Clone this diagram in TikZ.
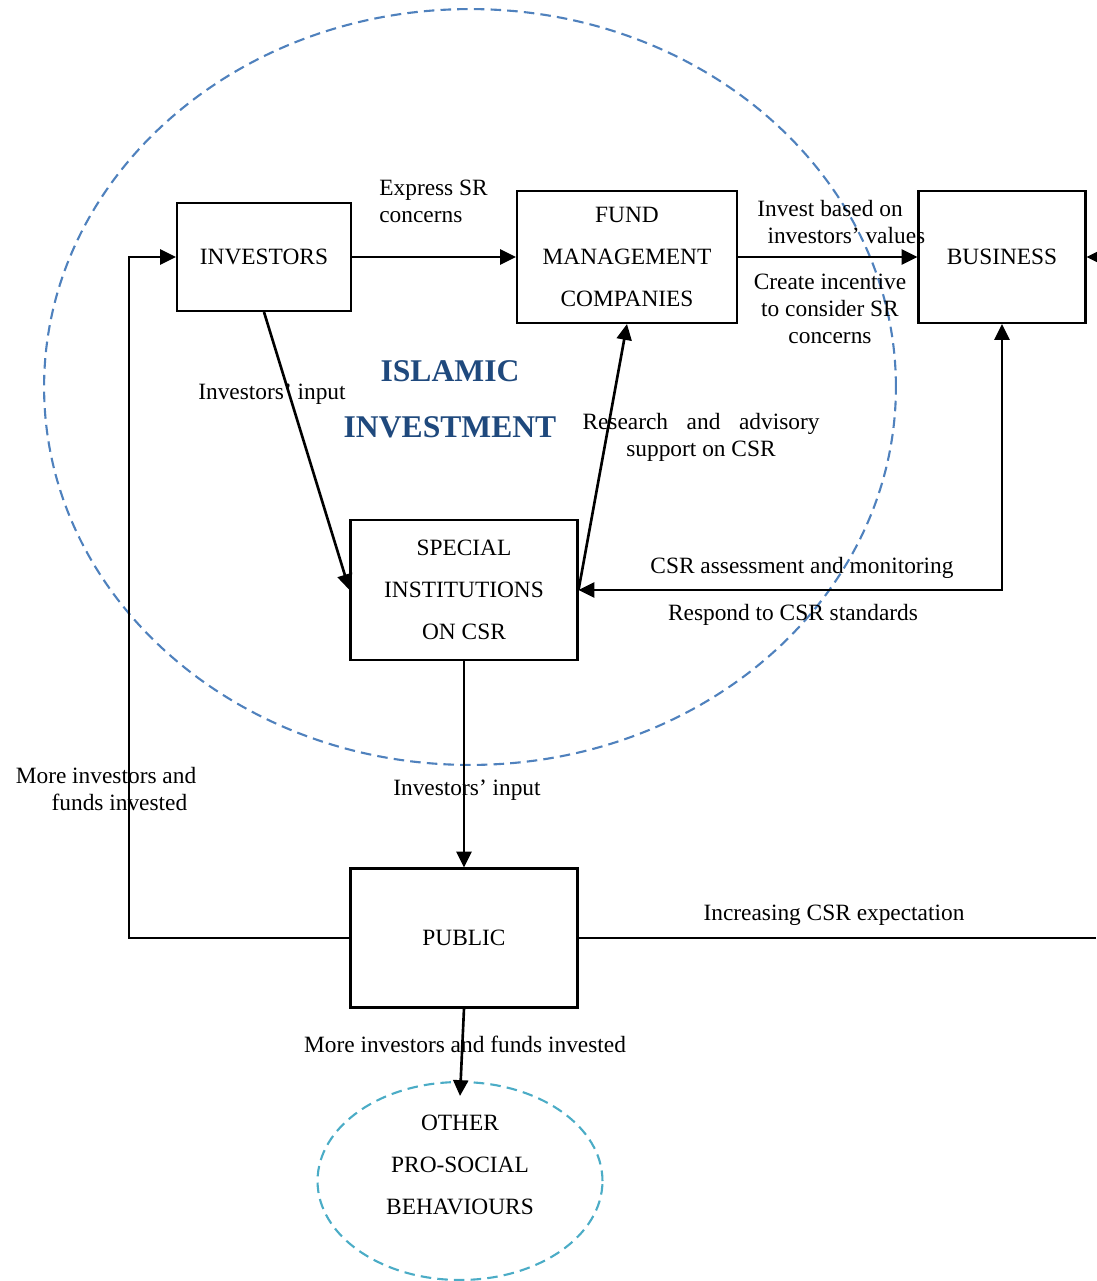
\documentclass[tikz,border=0pt]{standalone}
\usepackage{fontspec}
\setmainfont{Liberation Serif}
\usepackage{tikz}
\usetikzlibrary{arrows.meta,shapes,calc,positioning}
\definecolor{zoneblue}{RGB}{79,129,189}
\definecolor{zonecyan}{RGB}{75,172,198}
\definecolor{titleblue}{RGB}{31,73,125}
\tikzstyle{edge}  =[->, >={Triangle[length=9pt,width=8.5pt]},
                    line width=1.5pt]
\tikzstyle{box}   =[rectangle, draw, line width=1.2pt, align=center,
                    inner sep=0pt,
                    font=\fontsize{13.3}{23.8}\selectfont]
\tikzstyle{zone}  =[dashed, line width=1.2pt,
                    dash pattern=on 6pt off 3.5pt]
\tikzstyle{lbl}   =[inner sep=0pt, align=center,
                    font=\fontsize{13.3}{15.5}\selectfont]

\begin{document}
\begin{tikzpicture}[x=0.02cm,y=-0.02cm]
    \useasboundingbox (0,0) rectangle (1096,1281);

    % zones
    \draw[zone, zoneblue]
        (470,387) ellipse [x radius=8.52cm, y radius=7.56cm];
    \node (ops) [ellipse, draw=zonecyan, zone,
                 minimum width=5.7cm, minimum height=3.96cm]
        at (460,1181) {};
    \node (opsname) [box, draw=none] at (460,1165)
        {OTHER\\PRO-SOCIAL\\BEHAVIOURS};

    % boxes
    \node (inv) [box, minimum width=3.48cm, minimum height=2.16cm]
        at (264,257) {INVESTORS};
    \node (fmc) [box, minimum width=4.4cm, minimum height=2.64cm]
        at (627,257) {FUND\\MANAGEMENT\\COMPANIES};
    \node (bus) [box, minimum width=3.34cm, minimum height=2.64cm]
        at (1002,257) {BUSINESS};
    \node (sic) [box, minimum width=4.54cm, minimum height=2.8cm]
        at (464,590) {SPECIAL\\INSTITUTIONS\\ON CSR};
    \node (pub) [box, minimum width=4.54cm, minimum height=2.78cm]
        at (464,938) {PUBLIC};

    \node (title) [inner sep=0pt, align=center, text=titleblue,
                   font=\fontsize{18}{31.8}\selectfont\bfseries]
        at (450,399) {ISLAMIC\\INVESTMENT};

    \coordinate (loop) at (129,938);
    \coordinate (rightend) at (1096,938);
    \coordinate (busin) at (1096,257);

    % connectors
    \draw [edge] (inv) to (fmc);
    \draw [edge] (fmc) to (bus);
    \draw [edge] (inv.south) to (sic.west);
    \draw [edge] (sic.east) to (fmc.south);
    \draw [edge, <->] (sic.east) -| (bus.south);
    \draw [edge] (sic) to (pub);
    \draw [edge] (pub.west) -- (loop) |- (inv.west);
    \draw [line width=1.5pt] (pub.east) -- (rightend);
    \draw [edge] (busin) -- (bus.east);
    \draw [edge] (pub.south) -- ([yshift=-0.3cm]ops.north);

    % labels
    \node (l1) [lbl, anchor=west, align=left] at (379,201)
        {Express SR\\concerns};
    \node (l2) [lbl] at (830,222) {Invest based on\\\hspace{1.4em}investors’ values};
    \node (l3) [lbl] at (830,309) {Create incentive\\to consider SR\\concerns};
    \node (l4) [lbl] at (272,394) {Investors’ input};
    \node (l5) [lbl] at (701,437)
        {\makebox[4.74cm][s]{Research and advisory}\\support on CSR\hspace{0.7em}};
    \node (l6) [lbl] at (802,568) {CSR assessment and monitoring};
    \node (l7) [lbl] at (793,615) {Respond to CSR standards};
    \node (l8) [lbl] at (106,789)
        {More investors and\\\hspace{1.15em}funds invested};
    \node (l9) [lbl] at (467,790) {Investors’ input};
    \node (l10) [lbl] at (834,915) {Increasing CSR expectation};
    \node (l11) [lbl] at (465,1044) {More investors and funds invested};

\end{tikzpicture}
\end{document}
